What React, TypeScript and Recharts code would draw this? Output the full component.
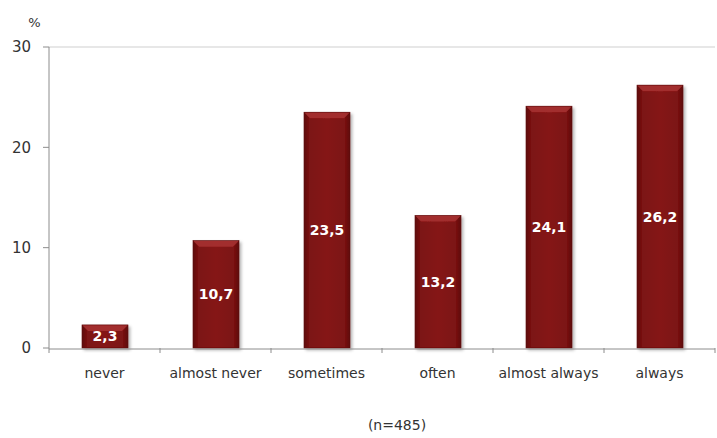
import React from 'react';
import { BarChart, Bar, XAxis, YAxis, LabelList, ReferenceLine, Label } from 'recharts';

const categories = ['never', 'almost never', 'sometimes', 'often', 'almost always', 'always'];
const shares = [2.3, 10.7, 23.5, 13.2, 24.1, 26.2];
const yTicks = [0, 10, 20, 30];
const boundaryTicks = [0, 1, 2, 3, 4, 5, 6];

const data = categories.map((name, i) => ({ name, value: shares[i], pos: i + 0.5 }));

const FONT = '"DejaVu Sans", Tahoma, sans-serif';

const fmt = (v: number) => v.toFixed(1).replace('.', ',');

// bar with a bit of bevel, like the office chart style
const BevelBar = (props: any) => {
  const { x, y, width, height } = props;
  if (!height || height <= 0) return null;
  const b = Math.min(6, height / 3);
  return (
    <g filter="url(#barShadow)">
      <rect x={x} y={y} width={width} height={height} fill="url(#barFill)" />
      <polygon
        points={`${x},${y} ${x + width},${y} ${x + width - b},${y + b} ${x + b},${y + b}`}
        fill="#a83232"
        opacity={0.85}
      />
      <rect x={x} y={y} width={width} height={height} fill="none" stroke="#5c0808" strokeWidth={0.6} />
    </g>
  );
};

const App: React.FC = () => {
  return (
    <div style={{ position: 'absolute', left: 0, top: 0, width: 717, height: 438, background: '#fff' }}>
      <BarChart
        width={717}
        height={438}
        data={data}
        margin={{ top: 47, right: 2, left: 0, bottom: 0 }}
        barCategoryGap={0}
      >
        <defs>
          <linearGradient id="barFill" x1="0" y1="0" x2="1" y2="0">
            <stop offset="0%" stopColor="#5e0a0a" />
            <stop offset="12%" stopColor="#7c1212" />
            <stop offset="50%" stopColor="#851515" />
            <stop offset="88%" stopColor="#7c1212" />
            <stop offset="100%" stopColor="#5e0a0a" />
          </linearGradient>
          <filter id="barShadow" x="-20%" y="-10%" width="150%" height="130%">
            <feDropShadow dx="2" dy="2" stdDeviation="1.5" floodColor="#000" floodOpacity="0.3" />
          </filter>
        </defs>
        <XAxis
          xAxisId="b"
          dataKey="name"
          interval={0}
          height={89}
          axisLine={{ stroke: '#8c8c8c' }}
          tickLine={false}
          tick={{ fontSize: 14, fill: '#333', fontFamily: FONT }}
          tickMargin={13}
        >
          <Label
            value="(n=485)"
            position="insideBottom"
            offset={8}
            dx={15}
            style={{ fontSize: 14, fill: '#333', fontFamily: FONT }}
          />
        </XAxis>
        <XAxis
          xAxisId="a"
          type="number"
          dataKey="pos"
          domain={[0, 6]}
          ticks={boundaryTicks}
          height={1}
          axisLine={false}
          tickFormatter={() => ''}
          tickLine={{ stroke: '#8c8c8c' }}
          tickSize={5}
        />
        <YAxis
          width={49}
          domain={[0, 30]}
          ticks={yTicks}
          axisLine={{ stroke: '#8c8c8c' }}
          tickLine={{ stroke: '#8c8c8c' }}
          tickSize={6}
          tick={{ fontSize: 15, fill: '#333', fontFamily: FONT }}
          tickMargin={12}
        >
          <Label
            value="%"
            position="top"
            offset={20}
            dx={10}
            style={{ fontSize: 13, fill: '#333', fontFamily: FONT }}
          />
        </YAxis>
        <ReferenceLine xAxisId="b" y={30} stroke="#cfcfcf" />
        <Bar xAxisId="b" dataKey="value" barSize={46} shape={<BevelBar />} isAnimationActive={false}>
          <LabelList
            dataKey="value"
            position="center"
            formatter={(v: any) => fmt(Number(v))}
            style={{ fill: '#fff', fontWeight: 'bold', fontSize: 14, fontFamily: FONT }}
          />
        </Bar>
      </BarChart>
    </div>
  );
};

export default App;
